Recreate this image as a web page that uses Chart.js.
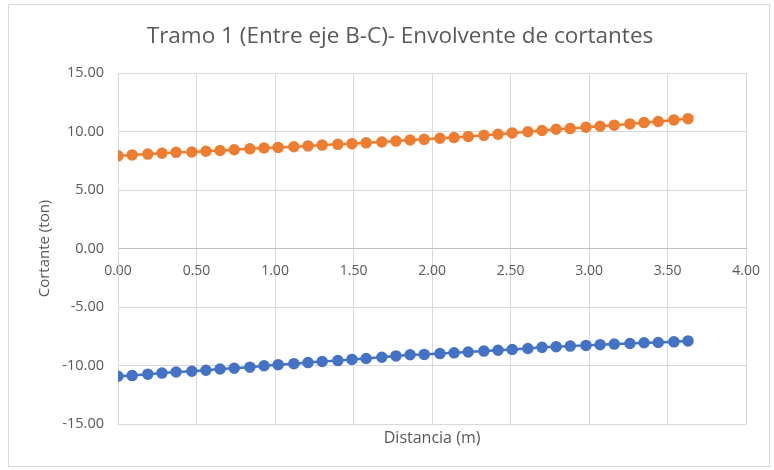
<!DOCTYPE html>
<html>
<head>
<meta charset="utf-8">
<script src="https://cdn.jsdelivr.net/npm/chart.js@4/dist/chart.umd.min.js"></script>
<style>
  html, body { margin: 0; padding: 0; background: #ffffff; }
  #wrap { position: relative; width: 774px; height: 470px; }
  #frame { position: absolute; left: 8px; top: 4px; width: 762px; height: 463px;
           border: 1px solid #d9d9d9; box-sizing: border-box; pointer-events: none; }
  canvas { position: absolute; left: 0; top: 0; }
</style>
</head>
<body>
<div id="wrap">
  <canvas id="chart" width="774" height="470"></canvas>
  <div id="frame"></div>
</div>
<script>
// Distance along the span (m)
const distancia = [
  0.00, 0.09, 0.19, 0.28, 0.37, 0.47, 0.56, 0.65, 0.74, 0.84,
  0.93, 1.02, 1.12, 1.21, 1.30, 1.40, 1.49, 1.58, 1.68, 1.77,
  1.86, 1.95, 2.05, 2.14, 2.23, 2.33, 2.42, 2.51, 2.61, 2.70,
  2.79, 2.88, 2.98, 3.07, 3.16, 3.26, 3.35, 3.44, 3.54, 3.63
];

// Minimum shear envelope (ton)
const cortanteMin = [
  -10.92, -10.86, -10.74, -10.65, -10.56, -10.49, -10.41, -10.30, -10.23, -10.14,
  -10.02, -9.93, -9.84, -9.75, -9.66, -9.58, -9.48, -9.40, -9.29, -9.18,
  -9.08, -9.05, -8.98, -8.92, -8.85, -8.77, -8.70, -8.63, -8.55, -8.45,
  -8.39, -8.34, -8.28, -8.22, -8.17, -8.12, -8.06, -8.03, -7.98, -7.90
];

// Maximum shear envelope (ton)
const cortanteMax = [
  7.92, 8.00, 8.07, 8.15, 8.22, 8.25, 8.31, 8.38, 8.44, 8.52,
  8.59, 8.64, 8.70, 8.77, 8.84, 8.90, 8.96, 9.03, 9.10, 9.18,
  9.27, 9.33, 9.42, 9.48, 9.58, 9.67, 9.76, 9.88, 9.98, 10.09,
  10.19, 10.25, 10.36, 10.45, 10.54, 10.65, 10.76, 10.85, 10.99, 11.10
];

// Axis tick labels
const xTicks = [0.0, 0.5, 1.0, 1.5, 2.0, 2.5, 3.0, 3.5, 4.0];
const yTicks = [-15, -10, -5, 0, 5, 10, 15];

const chartTitle = 'Tramo 1 (Entre eje B-C)- Envolvente de cortantes';
const xTitle = 'Distancia (m)';
const yTitle = 'Cortante (ton)';

const TEXT = '#595959';
const GRID = '#d9d9d9';
const FONT = '"Open Sans", Lato, sans-serif';

const toPoints = (ys) => ys.map((y, i) => ({ x: distancia[i], y: y }));

// Chart title and bottom axis title (the x axis itself sits at y = 0)
const textLabels = {
  id: 'textLabels',
  afterDraw(chart) {
    const { ctx, chartArea } = chart;
    ctx.save();
    ctx.fillStyle = TEXT;
    ctx.textAlign = 'center';
    ctx.textBaseline = 'middle';
    ctx.font = '22.5px ' + FONT;
    ctx.fillText(chartTitle, 400, 37);
    ctx.font = '16px ' + FONT;
    ctx.fillText(xTitle, (chartArea.left + chartArea.right) / 2, chartArea.bottom + 14);
    ctx.restore();
  }
};

new Chart(document.getElementById('chart'), {
  type: 'scatter',
  data: {
    datasets: [
      {
        label: 'Cortante mínimo',
        data: toPoints(cortanteMin),
        showLine: true,
        borderColor: '#4472C4',
        backgroundColor: '#4472C4',
        borderWidth: 2.5,
        pointRadius: 4.5,
        pointHoverRadius: 4.5
      },
      {
        label: 'Cortante máximo',
        data: toPoints(cortanteMax),
        showLine: true,
        borderColor: '#ED7D31',
        backgroundColor: '#ED7D31',
        borderWidth: 2.5,
        pointRadius: 4.5,
        pointHoverRadius: 4.5
      }
    ]
  },
  options: {
    responsive: false,
    animation: false,
    layout: { padding: { left: 0, right: 24, top: 73, bottom: 46 } },
    plugins: {
      legend: { display: false },
      tooltip: { enabled: false },
      title: { display: false }
    },
    scales: {
      x: {
        type: 'linear',
        position: { y: 0 },
        min: 0,
        max: 4,
        afterBuildTicks: (scale) => { scale.ticks = xTicks.map(v => ({ value: v })); },
        ticks: {
          color: TEXT,
          font: { family: FONT, size: 14 },
          padding: 14,
          maxRotation: 0,
          callback: (v) => Number(v).toFixed(2)
        },
        grid: { color: GRID, lineWidth: 1, drawTicks: false },
        border: { display: true, color: '#bfbfbf', width: 1 }
      },
      y: {
        type: 'linear',
        position: 'left',
        min: -15,
        max: 15,
        afterBuildTicks: (scale) => { scale.ticks = yTicks.map(v => ({ value: v })); },
        afterFit: (scale) => { scale.width = 118; },
        ticks: {
          color: TEXT,
          font: { family: FONT, size: 14.5 },
          padding: 14,
          callback: (v) => Number(v).toFixed(2)
        },
        grid: { color: GRID, lineWidth: 1, drawTicks: false },
        border: { display: true, color: GRID, width: 1 },
        title: {
          display: true,
          text: yTitle,
          color: TEXT,
          font: { family: FONT, size: 15 },
          padding: { top: 36, bottom: 0 }
        }
      }
    }
  },
  plugins: [textLabels]
});
</script>
</body>
</html>
